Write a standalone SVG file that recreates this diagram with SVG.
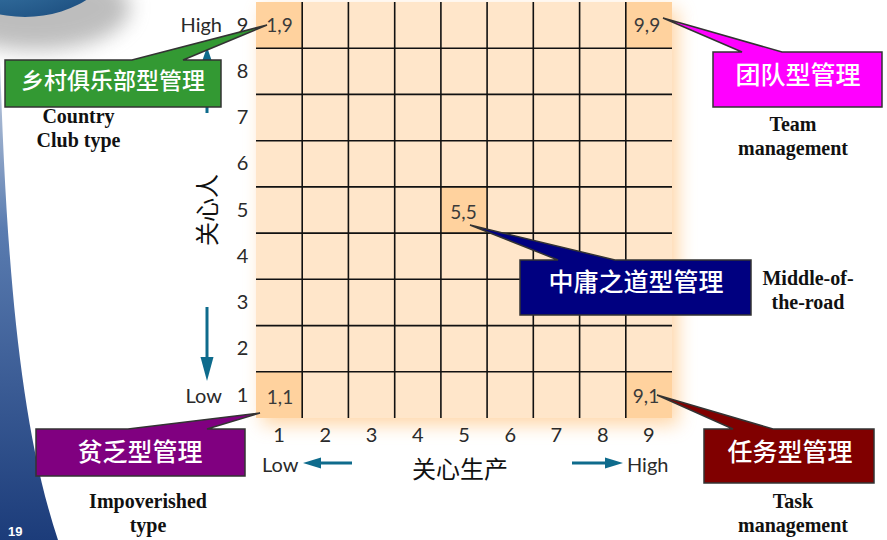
<svg xmlns="http://www.w3.org/2000/svg" width="887" height="540" viewBox="0 0 887 540">
<defs>
<style>
.num{font-family:Lato,"DejaVu Sans",sans-serif;font-weight:400;font-size:20px;fill:#2a2a2a;text-anchor:middle}
.cell{font-family:Lato,"DejaVu Sans",sans-serif;font-weight:400;font-size:19px;fill:#3a3a3a;text-anchor:middle}
.lbl{font-family:Lato,"DejaVu Sans",sans-serif;font-weight:400;font-size:20px;fill:#2a2a2a}
.cjk{font-family:"Noto Sans CJK SC",sans-serif;font-weight:500;fill:#fff;text-anchor:middle}
.ax{font-family:"Noto Sans CJK SC",sans-serif;font-size:24px;fill:#111}
.en{font-family:"Liberation Serif","Times New Roman",serif;font-weight:bold;font-size:20px;fill:#111;text-anchor:middle}
.box{stroke:#333;stroke-width:1.5;stroke-linejoin:miter}
.grid line{stroke:#111;stroke-width:1.6}
.arr{stroke:#0E6B8C;stroke-width:3;fill:none}
.head{fill:#0E6B8C}
</style>
<filter id="glow" x="-20%" y="-20%" width="140%" height="140%"><feGaussianBlur stdDeviation="9"/></filter>
<filter id="soft" x="-50%" y="-50%" width="200%" height="200%"><feGaussianBlur stdDeviation="10"/></filter>
<radialGradient id="globe" cx="0.3" cy="0.2" r="0.9">
<stop offset="0" stop-color="#8cc4e0"/><stop offset="0.5" stop-color="#3f7fae"/><stop offset="1" stop-color="#1d4f80"/>
</radialGradient>
<linearGradient id="band" x1="0" y1="0" x2="0" y2="1">
<stop offset="0" stop-color="#c9d3e2"/><stop offset="0.35" stop-color="#5a7cb0"/><stop offset="1" stop-color="#1c3c7a"/>
</linearGradient>
</defs>
<rect width="887" height="540" fill="#fff"/>
<g id="decor">
<ellipse cx="35" cy="8" rx="95" ry="42" fill="#888" opacity="0.55" filter="url(#soft)"/>
<ellipse cx="25" cy="-55" rx="95" ry="72" fill="url(#globe)"/>
<path d="M0,60 C6,250 18,420 58,540 L0,540 Z" fill="url(#band)"/>
<text x="8" y="536" font-family="Liberation Sans,Arial,sans-serif" font-weight="bold" font-size="13" fill="#fff">19</text>
</g>
<g id="grid">
<rect x="262" y="9" width="416" height="416" fill="#FFC98A" opacity="0.75" filter="url(#glow)"/>
<rect x="256" y="2" width="416" height="416" fill="#FFE6CA"/>
<g fill="#FFD29E">
<rect x="256" y="2" width="46.2" height="46.2"/>
<rect x="625.8" y="2" width="46.2" height="46.2"/>
<rect x="440.9" y="186.9" width="46.2" height="46.2"/>
<rect x="256" y="371.8" width="46.2" height="46.2"/>
<rect x="625.8" y="371.8" width="46.2" height="46.2"/>
</g>
<g class="grid">
<line x1="302.2" y1="2" x2="302.2" y2="418"/><line x1="348.4" y1="2" x2="348.4" y2="418"/>
<line x1="394.7" y1="2" x2="394.7" y2="418"/><line x1="440.9" y1="2" x2="440.9" y2="418"/>
<line x1="487.1" y1="2" x2="487.1" y2="418"/><line x1="533.3" y1="2" x2="533.3" y2="418"/>
<line x1="579.6" y1="2" x2="579.6" y2="418"/><line x1="625.8" y1="2" x2="625.8" y2="418"/>
<line x1="256" y1="48.2" x2="672" y2="48.2"/><line x1="256" y1="94.4" x2="672" y2="94.4"/>
<line x1="256" y1="140.7" x2="672" y2="140.7"/><line x1="256" y1="186.9" x2="672" y2="186.9"/>
<line x1="256" y1="233.1" x2="672" y2="233.1"/><line x1="256" y1="279.3" x2="672" y2="279.3"/>
<line x1="256" y1="325.6" x2="672" y2="325.6"/><line x1="256" y1="371.8" x2="672" y2="371.8"/>
</g>
<text class="cell" x="279.5" y="32">1,9</text>
<text class="cell" x="647" y="32">9,9</text>
<text class="cell" x="463.5" y="219">5,5</text>
<text class="cell" x="280" y="404">1,1</text>
<text class="cell" x="646" y="403">9,1</text>
</g>
<g id="axis-y">
<text class="lbl" x="222" y="32" text-anchor="end">High</text>
<text class="lbl" x="222" y="403" text-anchor="end">Low</text>
<text class="num" x="242.5" y="32">9</text>
<text class="num" x="242.5" y="78">8</text>
<text class="num" x="242.5" y="124">7</text>
<text class="num" x="242.5" y="170">6</text>
<text class="num" x="242.5" y="216.5">5</text>
<text class="num" x="242.5" y="262.5">4</text>
<text class="num" x="242.5" y="309">3</text>
<text class="num" x="242.5" y="355">2</text>
<text class="num" x="242.5" y="402">1</text>
<text class="ax" x="0" y="0" text-anchor="middle" transform="translate(216,210) rotate(-90)">关心人</text>
</g>
<g id="axis-x">
<text class="num" x="279.1" y="442">1</text>
<text class="num" x="325.3" y="442">2</text>
<text class="num" x="371.6" y="442">3</text>
<text class="num" x="417.8" y="442">4</text>
<text class="num" x="464" y="442">5</text>
<text class="num" x="510.2" y="442">6</text>
<text class="num" x="556.4" y="442">7</text>
<text class="num" x="602.7" y="442">8</text>
<text class="num" x="648.9" y="442">9</text>
<text class="lbl" x="262" y="472">Low</text>
<text class="lbl" x="627" y="472">High</text>
<text class="ax" x="412" y="478">关心生产</text>
</g>
<g id="connectors">
<line class="arr" x1="207" y1="60" x2="207" y2="113"/>
<path class="head" d="M207,47 L201.5,63 L212.5,63 Z"/>
<line class="arr" x1="207" y1="307" x2="207" y2="366"/>
<path class="head" d="M207,381 L200.5,357 L213.5,357 Z"/>
<line class="arr" x1="352" y1="463" x2="318" y2="463"/>
<path class="head" d="M303,463 L321,457.5 L321,468.5 Z"/>
<line class="arr" x1="572" y1="463" x2="608" y2="463"/>
<path class="head" d="M623,463 L605,457.5 L605,468.5 Z"/>
</g>
<g id="country-club">
<path class="box" fill="#339933" d="M5,60 L132,60 L267,25 L183,60 L221,60 L221,107 L5,107 Z"/>
<text class="cjk" x="113" y="89" font-size="23">乡村俱乐部型管理</text>
<text class="en" x="78.5" y="123">Country</text>
<text class="en" x="78.5" y="147">Club type</text>
</g>
<g id="team">
<path class="box" fill="#FF00FF" d="M713,52 L742,52 L663,18 L782,52 L882,52 L882,107 L713,107 Z"/>
<text class="cjk" x="798" y="84" font-size="25">团队型管理</text>
<text class="en" x="793" y="131">Team</text>
<text class="en" x="793" y="155">management</text>
</g>
<g id="middle-road">
<path class="box" fill="#000080" d="M520,260 L558,260 L470,225 L615,260 L751,260 L751,315 L520,315 Z"/>
<text class="cjk" x="636" y="291" font-size="25">中庸之道型管理</text>
<text class="en" x="808" y="285">Middle-of-</text>
<text class="en" x="808" y="309">the-road</text>
</g>
<g id="task">
<path class="box" fill="#800000" d="M704,429 L733,429 L657,395 L773,429 L874,429 L874,483 L704,483 Z"/>
<text class="cjk" x="790" y="461" font-size="25">任务型管理</text>
<text class="en" x="793" y="508">Task</text>
<text class="en" x="793" y="532">management</text>
</g>
<g id="impoverished">
<path class="box" fill="#800080" d="M36,429 L128,429 L260,413 L207,429 L245,429 L245,476 L36,476 Z"/>
<text class="cjk" x="140" y="461" font-size="25">贫乏型管理</text>
<text class="en" x="148" y="508">Impoverished</text>
<text class="en" x="148" y="532">type</text>
</g>
</svg>
